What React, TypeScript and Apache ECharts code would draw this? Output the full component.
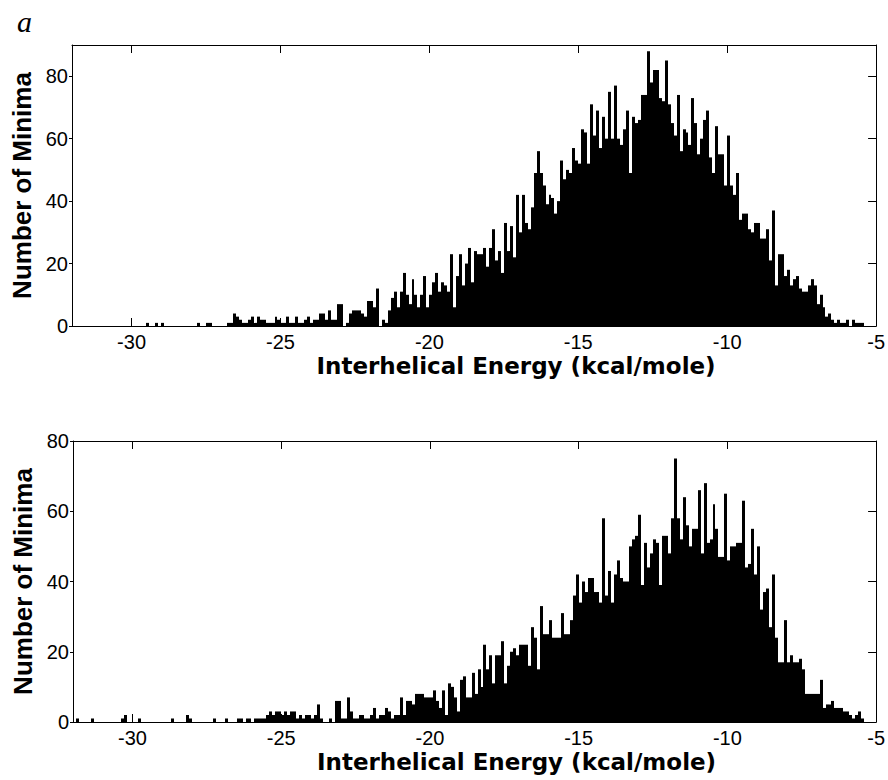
import React, { useEffect, useRef } from "react";
import * as echarts from "echarts";

// Histogram bins: 270 bins of 0.1 kcal/mole from -32 to -5
const binStart = -32;
const binWidth = 0.1;

const xTickValues = [-30, -25, -20, -15, -10, -5];
const yTicksTop = [0, 20, 40, 60, 80];
const yTicksBottom = [0, 20, 40, 60, 80];

const topCounts = [
  0, 0, 0, 0, 0, 0, 0, 0, 0, 0,
  0, 0, 0, 0, 0, 0, 0, 0, 0, 0,
  0, 0, 0, 0, 0, 1, 0, 0, 1, 0,
  1, 0, 0, 0, 0, 0, 0, 0, 0, 0,
  0, 0, 1, 0, 0, 1, 1, 0, 0, 0,
  0, 0, 1, 1, 4, 3, 2, 1, 1, 2,
  3, 1, 3, 2, 2, 1, 1, 1, 3, 2,
  1, 1, 3, 1, 1, 3, 1, 1, 2, 3,
  1, 2, 2, 4, 4, 2, 5, 2, 2, 7,
  7, 0, 1, 4, 5, 5, 5, 4, 3, 8,
  8, 6, 12, 0, 2, 1, 5, 9, 11, 6,
  11, 17, 10, 7, 15, 10, 6, 10, 16, 6,
  10, 14, 17, 11, 14, 13, 11, 23, 6, 16,
  23, 13, 20, 25, 14, 24, 23, 23, 25, 19,
  25, 31, 21, 24, 17, 33, 24, 32, 22, 42,
  30, 42, 33, 31, 38, 49, 56, 49, 45, 39,
  42, 41, 36, 40, 53, 47, 50, 49, 57, 53,
  52, 63, 62, 52, 71, 61, 69, 57, 67, 60,
  75, 60, 77, 60, 58, 63, 69, 49, 67, 65,
  66, 74, 74, 88, 78, 82, 82, 73, 72, 85,
  71, 65, 61, 74, 56, 63, 62, 58, 73, 65,
  55, 60, 66, 69, 54, 49, 64, 55, 55, 45,
  61, 45, 42, 49, 34, 36, 36, 31, 30, 33,
  33, 28, 28, 31, 21, 37, 13, 23, 23, 16,
  18, 13, 15, 16, 12, 11, 11, 13, 15, 13,
  7, 10, 6, 3, 4, 2, 1, 2, 1, 1,
  2, 0, 2, 1, 1, 1, 0, 0, 0, 0,
];

const bottomCounts = [
  0, 1, 0, 0, 0, 0, 1, 0, 0, 0,
  0, 0, 0, 0, 0, 0, 1, 2, 0, 0,
  0, 0, 1, 0, 0, 0, 0, 0, 0, 0,
  0, 0, 0, 1, 0, 0, 0, 0, 2, 1,
  0, 0, 0, 0, 0, 0, 0, 1, 0, 0,
  0, 1, 0, 0, 0, 1, 1, 0, 1, 1,
  0, 1, 1, 1, 1, 2, 3, 2, 3, 3,
  2, 3, 2, 3, 3, 1, 2, 1, 2, 2,
  1, 2, 5, 1, 0, 0, 1, 0, 6, 6,
  1, 1, 7, 3, 1, 1, 2, 2, 1, 1,
  2, 4, 1, 2, 2, 4, 3, 1, 2, 2,
  7, 2, 6, 6, 5, 8, 8, 8, 7, 7,
  7, 9, 6, 4, 9, 2, 11, 10, 7, 3,
  12, 13, 7, 7, 14, 8, 15, 10, 22, 15,
  19, 11, 19, 19, 23, 11, 16, 20, 21, 19,
  22, 22, 22, 16, 27, 24, 15, 33, 25, 25,
  29, 24, 24, 24, 31, 25, 25, 29, 36, 42,
  34, 40, 37, 41, 41, 37, 37, 34, 58, 36,
  43, 34, 42, 46, 41, 40, 40, 50, 52, 53,
  59, 39, 51, 44, 48, 52, 51, 39, 53, 53,
  48, 58, 75, 58, 52, 64, 56, 50, 55, 55,
  66, 48, 68, 51, 52, 62, 55, 47, 47, 65,
  46, 50, 50, 51, 51, 63, 44, 45, 55, 42,
  50, 32, 37, 38, 27, 42, 24, 17, 17, 29,
  17, 19, 17, 17, 18, 15, 8, 8, 8, 8,
  8, 12, 4, 5, 5, 6, 4, 4, 4, 3,
  3, 2, 1, 2, 3, 1, 0, 0, 0, 0,
];

const xAxisTitle = "Interhelical Energy (kcal/mole)";
const yAxisTitle = "Number of Minima";

const FONT = "Liberation Sans";

function toBins(counts: number[]) {
  const out: number[][] = [];
  counts.forEach((c, i) => {
    if (c > 0) {
      const x0 = binStart + i * binWidth;
      out.push([x0, x0 + binWidth, c]);
    }
  });
  return out;
}

function renderBar(_params: any, api: any) {
  const x0 = api.value(0);
  const x1 = api.value(1);
  const c = api.value(2);
  const p0 = api.coord([x0, c]);
  const p1 = api.coord([x1, 0]);
  const left = Math.round(p0[0]);
  const right = Math.round(p1[0]);
  return {
    type: "rect",
    shape: { x: left, y: p0[1], width: right - left, height: p1[1] - p0[1] },
    style: { fill: "#000" },
  };
}

function xAxes(gridIndex: number) {
  return [
    {
      type: "value",
      gridIndex,
      position: "bottom",
      min: -32,
      max: -5,
      axisLine: { show: true, onZero: false, lineStyle: { color: "#000", width: 1 } },
      axisTick: { show: true, inside: true, length: 8, customValues: xTickValues, lineStyle: { color: "#000" } },
      axisLabel: { show: true, customValues: xTickValues, margin: 6, fontSize: 20, fontFamily: FONT, color: "#000" },
      splitLine: { show: false },
      name: xAxisTitle,
      nameLocation: "middle",
      nameGap: 28,
      nameTextStyle: {
        fontSize: 23,
        fontWeight: "bold",
        fontFamily: "DejaVu Sans",
        color: "#000",
        padding: [0, 0, 0, 84],
      },
    },
    {
      type: "value",
      gridIndex,
      position: "top",
      min: -32,
      max: -5,
      axisLine: { show: true, onZero: false, lineStyle: { color: "#000", width: 1 } },
      axisTick: { show: true, inside: true, length: 8, customValues: xTickValues, lineStyle: { color: "#000" } },
      axisLabel: { show: false },
      splitLine: { show: false },
    },
  ];
}

function yAxes(gridIndex: number, max: number, ticks: number[]) {
  return [
    {
      type: "value",
      gridIndex,
      position: "left",
      min: 0,
      max,
      axisLine: { show: true, onZero: false, lineStyle: { color: "#000", width: 1 } },
      axisTick: { show: true, inside: false, length: 3, customValues: ticks, lineStyle: { color: "#000" } },
      axisLabel: { show: true, customValues: ticks, margin: 4, fontSize: 20, fontFamily: FONT, color: "#000" },
      splitLine: { show: false },
      name: yAxisTitle,
      nameLocation: "middle",
      nameGap: 36,
      nameTextStyle: { fontSize: 26, fontWeight: "bold", fontFamily: FONT, color: "#000" },
    },
    {
      type: "value",
      gridIndex,
      position: "right",
      min: 0,
      max,
      axisLine: { show: true, onZero: false, lineStyle: { color: "#000", width: 1 } },
      axisTick: { show: true, inside: true, length: 8, customValues: ticks, lineStyle: { color: "#000" } },
      axisLabel: { show: false },
      splitLine: { show: false },
    },
  ];
}

export default function App() {
  const ref = useRef<HTMLDivElement>(null);
  useEffect(() => {
    if (!ref.current) return;
    const chart = echarts.init(ref.current, null, { renderer: "svg" });
    chart.setOption({
      animation: false,
      backgroundColor: "#fff",
      grid: [
        { left: 72, top: 45, width: 810, height: 281, containLabel: false },
        { left: 73, top: 441, width: 811, height: 281, containLabel: false },
      ],
      xAxis: [...xAxes(0), ...xAxes(1)],
      yAxis: [...yAxes(0, 90, yTicksTop), ...yAxes(1, 80, yTicksBottom)],
      graphic: [
        {
          type: "text",
          left: 17,
          top: 6,
          style: { text: "a", font: 'italic 30px "Liberation Serif"', fill: "#000" },
        },
      ],
      series: [
        {
          type: "custom",
          xAxisIndex: 0,
          yAxisIndex: 0,
          renderItem: renderBar,
          encode: { x: [0, 1], y: 2 },
          data: toBins(topCounts),
          clip: true,
        },
        {
          type: "custom",
          xAxisIndex: 2,
          yAxisIndex: 2,
          renderItem: renderBar,
          encode: { x: [0, 1], y: 2 },
          data: toBins(bottomCounts),
          clip: true,
        },
      ],
    });
    return () => chart.dispose();
  }, []);
  return (
    <div
      ref={ref}
      style={{ position: "fixed", left: 0, top: 0, width: 888, height: 780, background: "#fff" }}
    />
  );
}
